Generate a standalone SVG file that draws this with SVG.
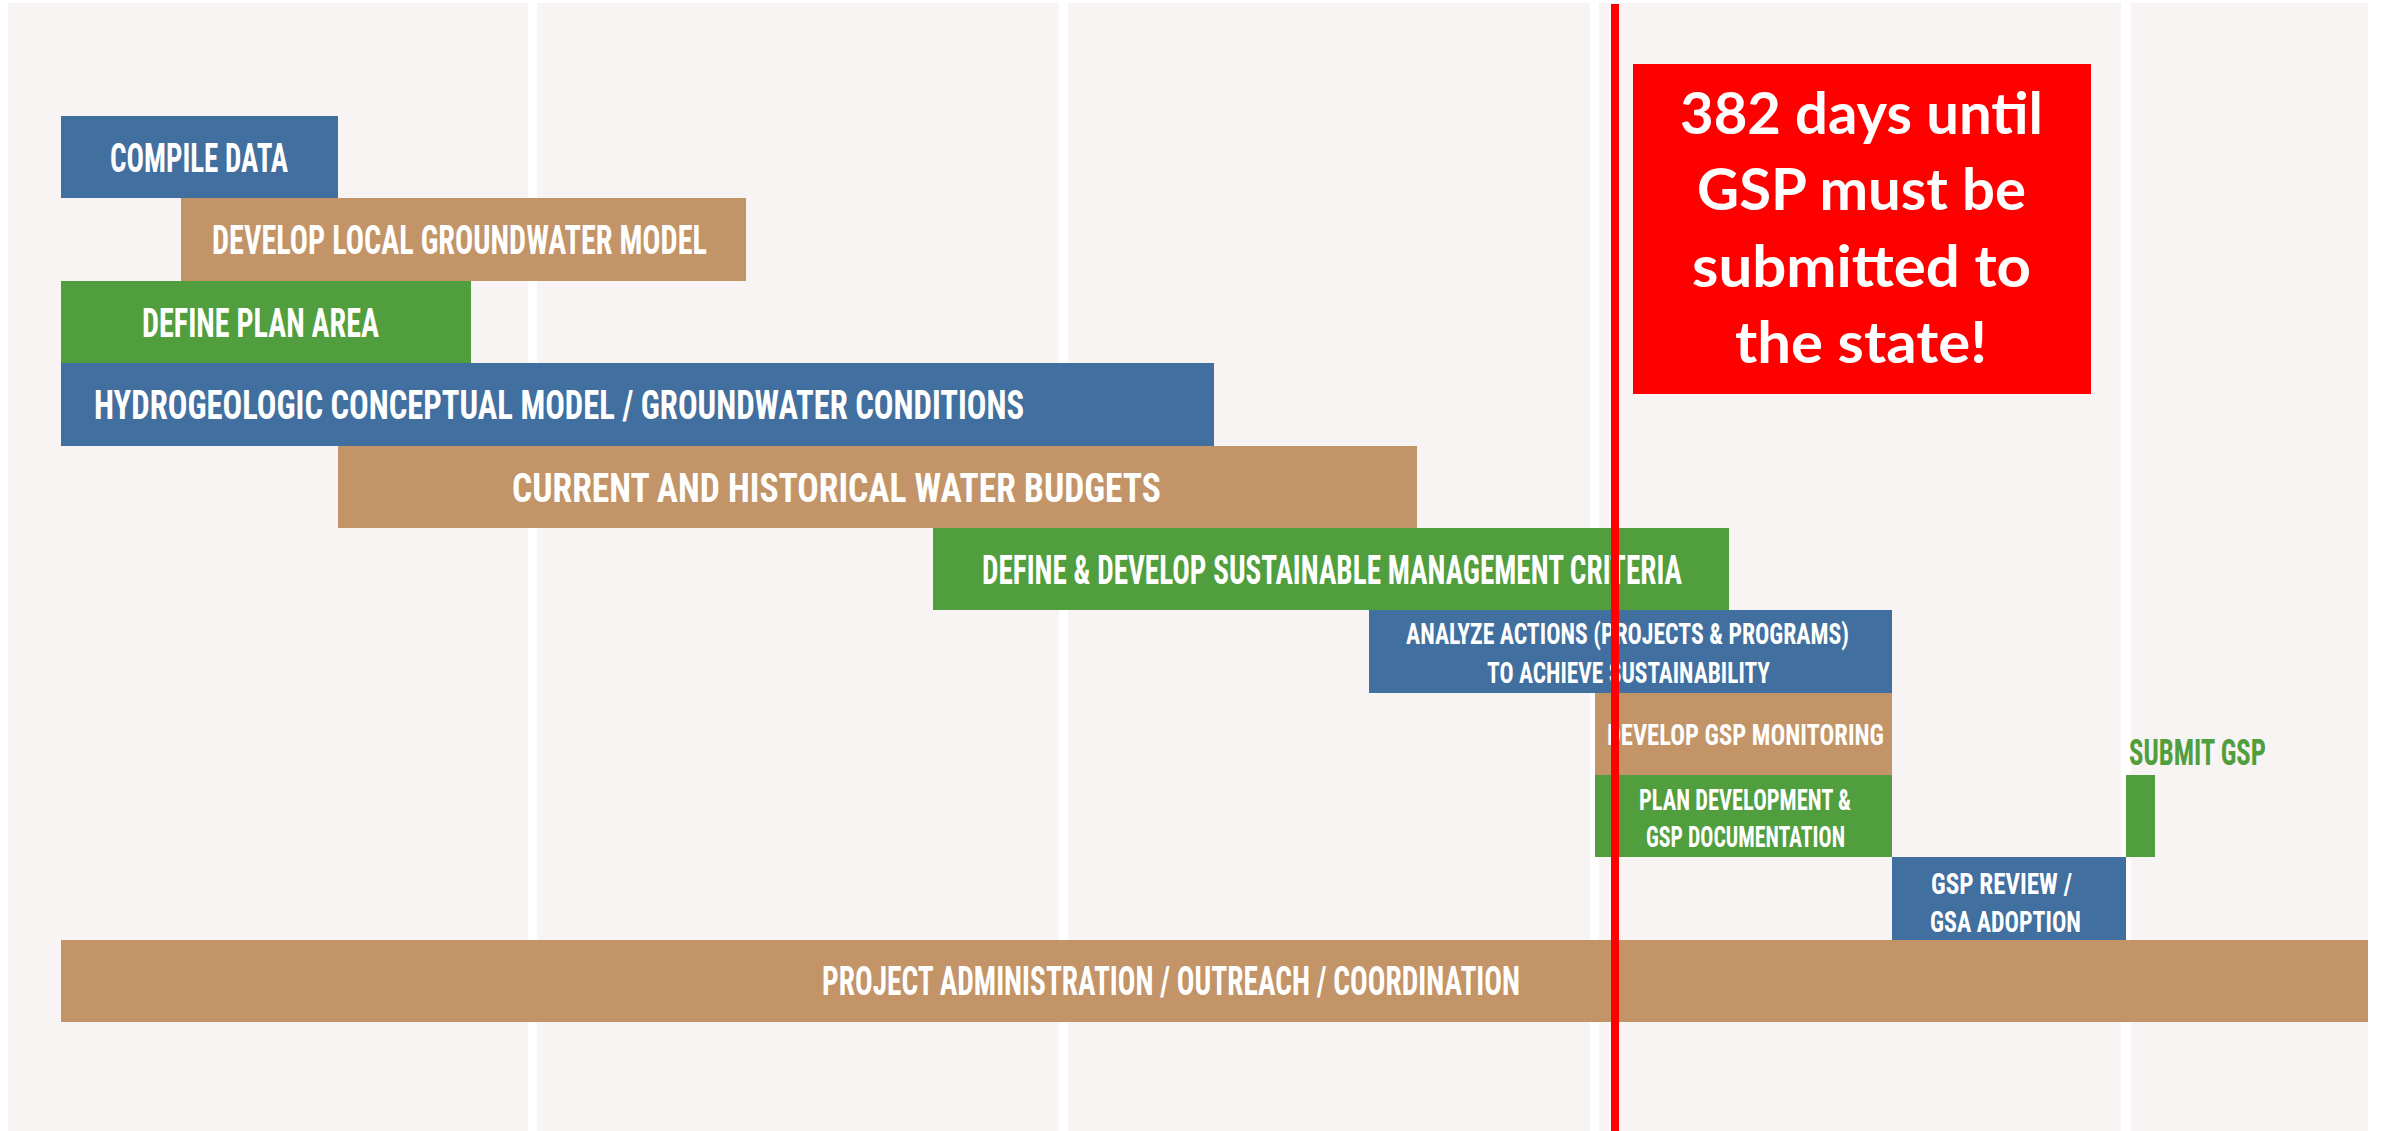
<svg xmlns="http://www.w3.org/2000/svg" width="2382" height="1131" viewBox="0 0 2382 1131">
  <style>
    .panel { fill: #F7F4F3; }
    .blue { fill: #416FA0; }
    .tan { fill: #C29468; }
    .green { fill: #509E3D; }
    .lbl { font-family: "Roboto Condensed", "Liberation Sans Narrow", "DejaVu Sans Condensed", Roboto, "Liberation Sans", sans-serif; font-weight: 700; fill: #FFFFFF; }
    .big { font-size: 41px; }
    .small { font-size: 30px; }
    .callout { font-family: Lato, "Open Sans", "Liberation Sans", sans-serif; font-weight: 700; font-size: 58px; fill: #FFFFFF; }
  </style>
  <rect x="0" y="0" width="2382" height="1131" fill="#FFFFFF"/>
  <g id="background">
    <rect class="panel" x="8" y="3" width="520" height="1128"/>
    <rect class="panel" x="537" y="3" width="522" height="1128"/>
    <rect class="panel" x="1068" y="3" width="522" height="1128"/>
    <rect class="panel" x="1599" y="3" width="522" height="1128"/>
    <rect class="panel" x="2131" y="3" width="237" height="1128"/>
  </g>
  <g id="compile-data">
    <rect class="blue" x="61" y="116" width="277" height="82"/>
    <text class="lbl big" x="110" y="172" textLength="178" lengthAdjust="spacingAndGlyphs">COMPILE DATA</text>
  </g>
  <g id="develop-local-model">
    <rect class="tan" x="181" y="198" width="565" height="83"/>
    <text class="lbl big" x="212" y="254" textLength="495" lengthAdjust="spacingAndGlyphs">DEVELOP LOCAL GROUNDWATER MODEL</text>
  </g>
  <g id="define-plan-area">
    <rect class="green" x="61" y="281" width="410" height="82"/>
    <text class="lbl big" x="142" y="337" textLength="237" lengthAdjust="spacingAndGlyphs">DEFINE PLAN AREA</text>
  </g>
  <g id="hydrogeologic-model">
    <rect class="blue" x="61" y="363" width="1153" height="83"/>
    <text class="lbl big" x="94" y="419" textLength="930" lengthAdjust="spacingAndGlyphs">HYDROGEOLOGIC CONCEPTUAL MODEL / GROUNDWATER CONDITIONS</text>
  </g>
  <g id="water-budgets">
    <rect class="tan" x="338" y="446" width="1079" height="82"/>
    <text class="lbl big" x="512" y="502" textLength="649" lengthAdjust="spacingAndGlyphs">CURRENT AND HISTORICAL WATER BUDGETS</text>
  </g>
  <g id="sustainable-criteria">
    <rect class="green" x="933" y="528" width="796" height="82"/>
    <text class="lbl big" x="982" y="584" textLength="700" lengthAdjust="spacingAndGlyphs">DEFINE &amp; DEVELOP SUSTAINABLE MANAGEMENT CRITERIA</text>
  </g>
  <g id="analyze-actions">
    <rect class="blue" x="1369" y="610" width="523" height="83"/>
    <text class="lbl small" x="1406" y="644" textLength="443" lengthAdjust="spacingAndGlyphs">ANALYZE ACTIONS (PROJECTS &amp; PROGRAMS)</text>
    <text class="lbl small" x="1487" y="683" textLength="283" lengthAdjust="spacingAndGlyphs">TO ACHIEVE SUSTAINABILITY</text>
  </g>
  <g id="gsp-monitoring">
    <rect class="tan" x="1595" y="693" width="297" height="82"/>
    <text class="lbl small" x="1607" y="745" textLength="277" lengthAdjust="spacingAndGlyphs">DEVELOP GSP MONITORING</text>
  </g>
  <g id="plan-development">
    <rect class="green" x="1595" y="775" width="297" height="82"/>
    <text class="lbl small" x="1639" y="810" textLength="212" lengthAdjust="spacingAndGlyphs">PLAN DEVELOPMENT &amp;</text>
    <text class="lbl small" x="1646" y="847" textLength="199" lengthAdjust="spacingAndGlyphs">GSP DOCUMENTATION</text>
  </g>
  <g id="gsp-review">
    <rect class="blue" x="1892" y="857" width="234" height="83"/>
    <text class="lbl small" x="1931" y="894" textLength="141" lengthAdjust="spacingAndGlyphs">GSP REVIEW /</text>
    <text class="lbl small" x="1930" y="932" textLength="151" lengthAdjust="spacingAndGlyphs">GSA ADOPTION</text>
  </g>
  <g id="submit-gsp">
    <rect class="green" x="2126" y="775" width="29" height="82"/>
    <text class="lbl" x="2129" y="765" font-size="36" textLength="137" lengthAdjust="spacingAndGlyphs" style="fill:#509E3D">SUBMIT GSP</text>
  </g>
  <g id="project-administration">
    <rect class="tan" x="61" y="940" width="2307" height="82"/>
    <text class="lbl big" x="822" y="995" textLength="698" lengthAdjust="spacingAndGlyphs">PROJECT ADMINISTRATION / OUTREACH / COORDINATION</text>
  </g>
  <g id="connectors">
    <rect id="today-line" x="1611" y="4" width="8" height="1127" fill="#FF0000"/>
  </g>
  <g id="deadline-callout">
    <rect x="1633" y="64" width="458" height="330" fill="#FF0000"/>
    <text class="callout" x="1680" y="134" textLength="363" lengthAdjust="spacingAndGlyphs">382 days until</text>
    <text class="callout" x="1697" y="210" textLength="329" lengthAdjust="spacingAndGlyphs">GSP must be</text>
    <text class="callout" x="1692" y="287" textLength="339" lengthAdjust="spacingAndGlyphs">submitted to</text>
    <text class="callout" x="1735" y="363" textLength="252" lengthAdjust="spacingAndGlyphs">the state!</text>
  </g>
</svg>
